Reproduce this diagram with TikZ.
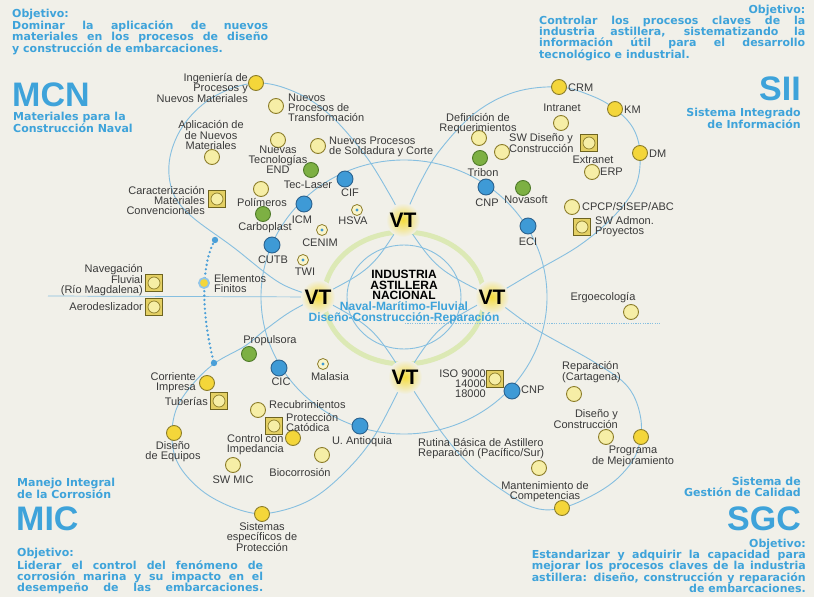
\documentclass[tikz,border=0pt]{standalone}
\usepackage{fontspec}
\setmainfont{Liberation Sans}
\newfontfamily\dvfont{DejaVu Sans}
\definecolor{bg}{HTML}{F1F0E9}
\definecolor{hblue}{HTML}{3EA3DA}
\definecolor{arcc}{HTML}{86BFE0}
\definecolor{ringg}{HTML}{DCE9B5}
\definecolor{ybright}{HTML}{F4D63A}
\definecolor{ypale}{HTML}{F6EEA6}
\definecolor{olivea}{HTML}{8C7D2A}
\definecolor{oliveb}{HTML}{6E6420}
\definecolor{ysq}{HTML}{E4D064}
\definecolor{greena}{HTML}{7DB043}
\definecolor{greenb}{HTML}{4F7A2A}
\definecolor{bluea}{HTML}{3E9AD6}
\definecolor{blueb}{HTML}{2B628E}
\definecolor{lblc}{HTML}{3A3A3A}
\definecolor{vty}{HTML}{F5DC3C}
\definecolor{dotc}{HTML}{4A9FD8}
\begin{document}
\begin{tikzpicture}[x=1pt,y=-1pt,
  lbl/.style={font=\fontsize{11}{10}\selectfont, text=lblc, inner sep=0pt, align=center},
  yc/.style={circle, draw=olivea, line width=0.9pt, fill=ypale, minimum size=15pt, inner sep=0pt},
  yb/.style={yc, fill=ybright},
  sq/.style={rectangle, draw=oliveb, line width=1.2pt, fill=ysq, minimum size=17pt, inner sep=0pt,
    path picture={\draw[olivea, line width=0.7pt, fill=ypale] (path picture bounding box.center) circle (6pt);}},
  gc/.style={circle, draw=greenb, line width=0.9pt, fill=greena, minimum size=15pt, inner sep=0pt},
  bc/.style={circle, draw=blueb, line width=0.9pt, fill=bluea, minimum size=16pt, inner sep=0pt},
  sc/.style={circle, draw=olivea, line width=0.8pt, fill=ypale!60!white, minimum size=11pt, inner sep=0pt,
    path picture={\fill[bluea] (path picture bounding box.center) circle (1.6pt);}},
  bluearc/.style={draw=arcc, line width=0.9pt},
  vtlab/.style={font=\bfseries\fontsize{21}{21}\selectfont, text=black, inner sep=0pt},
  objt/.style={font={\dvfont\bfseries\fontsize{11}{11}\selectfont}, text=hblue, inner sep=0pt},
  subt/.style={font={\dvfont\bfseries\fontsize{11}{10.5}\selectfont}, text=hblue, inner sep=0pt},
  bigt/.style={font=\bfseries\fontsize{34}{34}\selectfont, text=hblue, inner sep=0pt}
]
\useasboundingbox (0,0) rectangle (814,597);
\fill[bg] (0,0) rectangle (814,597);

% centres of the VT marks
\coordinate (cT) at (403,220);
\coordinate (cL) at (318,297);
\coordinate (cR) at (492,297);
\coordinate (cB) at (405,377);
\coordinate (ctr) at (404,297);

% green ring
\draw[ringg, line width=5pt] (404,298) ellipse [x radius=80pt, y radius=66pt];

% big circles / arcs
\draw[bluearc] (ctr) ellipse [x radius=143pt, y radius=137pt];
\draw[bluearc] (ctr) ellipse [x radius=57pt, y radius=52pt];
\draw[bluearc] plot[smooth, tension=0.6] coordinates {(cL) (280,283) (233,247) (190,215) (172,190) (170,157) (185,123) (215,96) (256,83) (295,92) (330,115) (365,155) (390,195) (cT)};
\draw[bluearc] plot[smooth, tension=0.6] coordinates {(cT) (420,183) (440,150) (475,113) (515,92) (559,87) (592,96) (615,109) (633,128) (640,153) (636,185) (615,215) (580,245) (534,272) (cR)};
\draw[bluearc] plot[smooth, tension=0.6] coordinates {(cL) (290,312) (265,330) (245,346) (215,363) (192,385) (176,410) (172,440) (180,467) (205,493) (240,510) (270,513) (310,500) (345,472) (375,435) (cB)};
\draw[bluearc] plot[smooth, tension=0.6] coordinates {(cR) (534,328) (594,362) (628,387) (641,420) (637,452) (620,476) (595,494) (562,508) (535,508) (505,492) (470,465) (440,430) (cB)};
\draw[bluearc] (cL) .. controls (372,269) .. (cT);
\draw[bluearc] (cT) .. controls (436,269) .. (cR);
\draw[bluearc] (cR) .. controls (437,327) .. (cB);
\draw[bluearc] (cL) .. controls (373,327) .. (cB);
\coordinate (hl) at (48,296);
\coordinate (hm) at (405,323);
\coordinate (hr) at (660,323);
\draw[bluearc, line width=0.7pt] (hl) -- (cL);
\draw[bluearc, line width=0.8pt, dash pattern=on 1.2pt off 1.2pt] (hm) -- (hr);

% dotted arc
\coordinate (dA) at (215,240);
\coordinate (dB) at (214,363);
\draw[dotc, line width=2.6pt, line cap=round, dash pattern=on 0pt off 4.4pt] (dA) .. controls (203,260) and (199,305) .. (dB);
\fill[dotc] (dA) circle (3.2pt);
\fill[dotc] (dB) circle (3.2pt);

% VT marks
\foreach \c in {cT,cL,cR,cB}{\shade[inner color=vty, outer color=bg] (\c) circle (17pt);}
\node[vtlab] (vtT) at (cT) {VT};
\node[vtlab] (vtL) at (cL) {VT};
\node[vtlab] (vtR) at (cR) {VT};
\node[vtlab] (vtB) at (cB) {VT};

% centre texts
\node[font=\bfseries\fontsize{12}{10.5}\selectfont, align=center, inner sep=0pt] (ian) at (404,285) {INDUSTRIA\\ASTILLERA\\NACIONAL};
\node[font=\bfseries\fontsize{12}{11}\selectfont, text=hblue, align=center, inner sep=0pt] (nmf) at (404,313) {Naval-Marítimo-Fluvial\\Diseño-Construcción-Reparación};

% ---------- MCN quadrant nodes
\node[yb] (ing) at (256,83) {};
\node[yc] (npt) at (276,106) {};
\node[yc] (apl) at (212,157) {};
\node[yc] (nte) at (278,140) {};
\node[yc] (nps) at (318,146) {};
\node[gc] (tec) at (311,170) {};
\node[bc] (cif) at (345,179) {};
\node[yc] (pol) at (261,189) {};
\node[gc] (carb) at (263,214) {};
\node[bc] (icm) at (304,204) {};
\node[sq] (car) at (217,199) {};
\node[sc] (hsva) at (357,210) {};
\node[sc] (cenim) at (322,230) {};
\node[bc] (cutb) at (272,245) {};
\node[sc] (twi) at (303,260) {};
\node[sq] (nav) at (154,283) {};
\node[sq] (aero) at (154,307) {};
\node[circle, draw=dotc!60!white, line width=1.8pt, fill=ybright, minimum size=10pt, inner sep=0pt] (elf) at (204,283) {};

\node[lbl, align=right, anchor=east] (ingL) at (248,88) {Ingeniería de\\Procesos y\\Nuevos Materiales};
\node[lbl, align=left, anchor=west] (nptL) at (288,108) {Nuevos\\Procesos de\\Transformación};
\node[lbl] (aplL) at (211,135) {Aplicación de\\de Nuevos\\Materiales};
\node[lbl] (nteL) at (278,160) {Nuevas\\Tecnologías\\END};
\node[lbl, align=left, anchor=west] (npsL) at (329,147) {Nuevos Procesos\\de Soldadura y Corte};
\node[lbl] (tecL) at (308,185) {Tec-Laser};
\node[lbl] (cifL) at (350,193) {CIF};
\node[lbl] (polL) at (262,203) {Polímeros};
\node[lbl] (carbL) at (265,228) {Carboplast};
\node[lbl] (icmL) at (302,220) {ICM};
\node[lbl, align=right, anchor=east] (carL) at (205,201) {Caracterización\\Materiales\\Convencionales};
\node[lbl] (hsvaL) at (353,221) {HSVA};
\node[lbl] (cenimL) at (320,243) {CENIM};
\node[lbl] (cutbL) at (273,260) {CUTB};
\node[lbl] (twiL) at (305,272) {TWI};
\node[lbl, align=right, anchor=east] (navL) at (143,280) {Navegación\\Fluvial\\(Río Magdalena)};
\node[lbl, anchor=east] (aeroL) at (143,307) {Aerodeslizador};
\node[lbl, align=left, anchor=west] (elfL) at (214,284) {Elementos\\Finitos};

% ---------- MIC quadrant nodes
\node[gc] (prop) at (249,354) {};
\node[bc] (cic) at (279,368) {};
\node[sc] (mal) at (323,364) {};
\node[yb] (cor) at (207,383) {};
\node[sq] (tub) at (219,401) {};
\node[yc] (rec) at (258,410) {};
\node[sq] (pro) at (274,426) {};
\node[yb] (cci) at (293,438) {};
\node[yb] (deq) at (174,433) {};
\node[yc] (swm) at (233,465) {};
\node[yc] (bio) at (322,455) {};
\node[bc] (uan) at (360,426) {};
\node[yb] (sis) at (262,514) {};

\node[lbl] (propL) at (270,341) {Propulsora};
\node[lbl] (cicL) at (281,382) {CIC};
\node[lbl] (malL) at (330,377) {Malasia};
\node[lbl, align=right, anchor=east] (corL) at (196,383) {Corriente\\Impresa};
\node[lbl, anchor=east] (tubL) at (208,401) {Tuberías};
\node[lbl, anchor=west] (recL) at (269,404.5) {Recubrimientos};
\node[lbl, align=left, anchor=west] (proL) at (286,422.5) {Protección\\Catódica};
\node[lbl, anchor=east] (cciL) at (284,445) {Control con\\Impedancia};
\node[lbl] (deqL) at (173,452) {Diseño\\de Equipos};
\node[lbl] (swmL) at (233,480) {SW MIC};
\node[lbl] (bioL) at (300,472) {Biocorrosión};
\node[lbl] (uanL) at (362,442) {U. Antioquia};
\node[lbl] (sisL) at (262,537) {Sistemas\\específicos de\\Protección};

% ---------- SGC quadrant nodes
\node[sq] (iso) at (495,379) {};
\node[bc] (cnpb) at (512,391) {};
\node[yc] (rep) at (574,394) {};
\node[yc] (dyc) at (606,437) {};
\node[yb] (pdm) at (641,437) {};
\node[yc] (rut) at (539,468) {};
\node[yb] (man) at (562,508) {};
\node[yc] (erg) at (631,312) {};

\node[lbl, align=right, anchor=east] (isoL) at (486,384) {ISO 9000\\14000\\18000};
\node[lbl, anchor=west] (cnpbL) at (521,390) {CNP};
\node[lbl, align=left, anchor=west] (repL) at (562,372) {Reparación\\(Cartagena)};
\node[lbl, align=right, anchor=east] (dycL) at (618,419) {Diseño y\\Construcción};
\node[lbl] (pdmL) at (633,456) {Programa\\de Mejoramiento};
\node[lbl, align=left, anchor=west] (rutL) at (418,449) {Rutina Básica de Astillero\\Reparación (Pacífico/Sur)};
\node[lbl] (manL) at (545,492) {Mantenimiento de\\Competencias};
\node[lbl] (ergL) at (603,298) {Ergoecología};

% ---------- SII quadrant nodes
\node[sq] (swa) at (582,227) {};
\node[yc] (cpcp) at (572,207) {};
\node[yc] (erp) at (592,172) {};
\node[sq] (ext) at (589,143) {};
\node[yb] (dm) at (640,153) {};
\node[yb] (km) at (615,109) {};
\node[yc] (intr) at (561,123) {};
\node[yb] (crm) at (559,87) {};
\node[yc] (def) at (479,138) {};
\node[yc] (swd) at (502,152) {};
\node[gc] (tri) at (480,158) {};
\node[bc] (cnpa) at (486,187) {};
\node[gc] (nov) at (523,188) {};
\node[bc] (eci) at (528,226) {};

\node[lbl, align=left, anchor=west] (swaL) at (595,227) {SW Admon.\\Proyectos};
\node[lbl, anchor=west] (cpcpL) at (582,207) {CPCP/SISEP/ABC};
\node[lbl, anchor=west] (erpL) at (600,172) {ERP};
\node[lbl] (extL) at (593,160) {Extranet};
\node[lbl, anchor=west] (dmL) at (649,154) {DM};
\node[lbl, anchor=west] (kmL) at (624,110) {KM};
\node[lbl] (intrL) at (562,108) {Intranet};
\node[lbl, anchor=west] (crmL) at (568,88) {CRM};
\node[lbl] (defL) at (478,124) {Definición de\\Requerimientos};
\node[lbl, align=left, anchor=west] (swdL) at (509,143) {SW Diseño y\\Construcción};
\node[lbl] (triL) at (483,173) {Tribon};
\node[lbl] (cnpaL) at (487,203) {CNP};
\node[lbl] (novL) at (526,200) {Novasoft};
\node[lbl] (eciL) at (528,242) {ECI};

% ---------- corner texts
\node[objt, align=left, anchor=west] (tlobj) at (12,32) {Objetivo:\\\makebox[256pt][s]{Dominar la aplicación de nuevos}\\\makebox[256pt][s]{materiales en los procesos de diseño}\\y construcción de embarcaciones.};
\node[bigt, anchor=west] (mcn) at (12,95) {MCN};
\node[subt, align=left, anchor=west] (mcnS) at (13,122.5) {Materiales para la\\Construcción Naval};

\node[objt, align=left, anchor=west] (trobj) at (539,33) {\makebox[266pt][r]{Objetivo:}\\\makebox[266pt][s]{Controlar los procesos claves de la}\\\makebox[266pt][s]{industria astillera, sistematizando la}\\\makebox[266pt][s]{información útil para el desarrollo}\\tecnológico e industrial.};
\node[bigt, anchor=east] (sii) at (801,89) {SII};
\node[subt, align=right, anchor=east] (siiS) at (801,118) {Sistema Integrado\\de Información};

\node[subt, align=left, anchor=west] (micS) at (17,488) {Manejo Integral\\de la Corrosión};
\node[bigt, anchor=west] (mic) at (16,519) {MIC};
\node[objt, align=left, anchor=west] (blobj) at (17,571) {Objetivo:\\\makebox[246pt][s]{Liderar el control del fenómeno de}\\\makebox[246pt][s]{corrosión marina y su impacto en el}\\\makebox[246pt][s]{desempeño de las embarcaciones.}};

\node[subt, align=right, anchor=east] (sgcS) at (801,487) {Sistema de\\Gestión de Calidad};
\node[bigt, anchor=east] (sgc) at (801,519) {SGC};
\node[objt, align=left, anchor=east] (brobj) at (806,566) {\makebox[274pt][r]{Objetivo:}\\\makebox[274pt][s]{Estandarizar y adquirir la capacidad para}\\\makebox[274pt][s]{mejorar los procesos claves de la industria}\\\makebox[274pt][s]{astillera: diseño, construcción y reparación}\\\makebox[274pt][r]{de embarcaciones.}};
\end{tikzpicture}
\end{document}
